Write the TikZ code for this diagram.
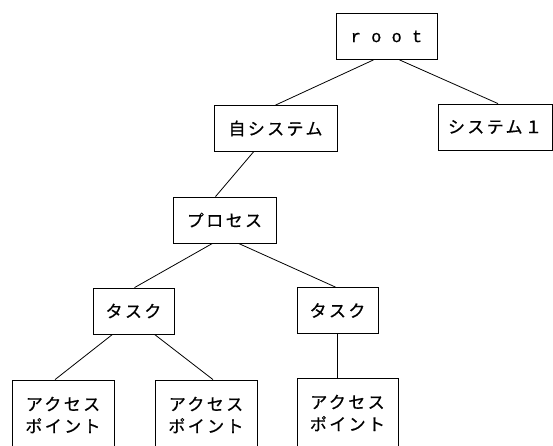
\documentclass[tikz,border=0pt]{standalone}
\usepackage{fontspec}
\usepackage{tikz}
\usetikzlibrary{positioning}
\newfontfamily\jpfont[LetterSpace=14,FakeBold=0.6]{Noto Sans CJK JP}
\newfontfamily\monofont[FakeBold=0.6]{Liberation Mono}

\begin{document}
\begin{tikzpicture}[x=1pt, y=-1pt,
        box/.style={rectangle, draw=black, line width=0.8pt, fill=white, inner sep=0pt, minimum height=46pt, minimum width=#1,
                    font=\jpfont\fontsize{17}{22}\selectfont},
        twoline/.style={box=#1, minimum height=70pt, align=center},
        link/.style={draw=black, line width=0.8pt}
      ]
        \clip (0,0) rectangle (553,446);
        \fill[white] (0,0) rectangle (553,446);

        \node[box=101pt]  (root)   at (386.5, 36.5)  {\monofont\fontsize{17}{20}\selectfont r o o t};
        \node[box=123pt]  (jisys)  at (275.5, 128.5) {自システム};
        \node[box=114pt]  (sys1)   at (495, 127)     {システム１};
        \node[box=103pt]  (proc)   at (224.5, 220)   {プロセス};
        \node[box=81pt]   (taskL)  at (133.5, 311)   {タスク};
        \node[box=81pt]   (taskR)  at (337.5, 310.5) {タスク};
        \node[twoline=102pt] (apA) at (63, 415)      {アクセス\\ポイント};
        \node[twoline=102pt] (apB) at (206, 415)     {アクセス\\ポイント};
        \node[twoline=101pt] (apC) at (347.5, 413)   {アクセス\\ポイント};

        \draw[link] ([xshift=-13pt]root.south)  -- (jisys.north);
        \draw[link] ([xshift=13pt]root.south)   -- ([xshift=3pt]sys1.north);
        \draw[link] ([xshift=-22pt]jisys.south) -- ([xshift=-9pt]proc.north);
        \draw[link] ([xshift=-12pt]proc.south)  -- ([xshift=1pt]taskL.north);
        \draw[link] ([xshift=14pt]proc.south)   -- ([xshift=-2pt]taskR.north);
        \draw[link] ([xshift=-21pt]taskL.south) -- ([xshift=-8pt]apA.north);
        \draw[link] ([xshift=21pt]taskL.south)  -- ([xshift=7pt]apB.north);
        \draw[link] (taskR.south) -- (taskR.south |- apC.north);
      \end{tikzpicture}
\end{document}
